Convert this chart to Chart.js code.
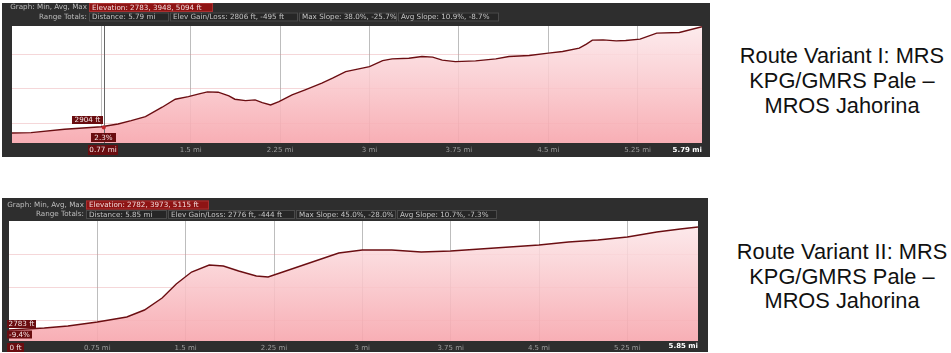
<!DOCTYPE html>
<html>
<head>
<meta charset="utf-8">
<script src="https://cdn.jsdelivr.net/npm/chart.js@4.4.1/dist/chart.umd.min.js"></script>
<style>
  body { margin: 0; background: #fff; width: 951px; height: 353px; overflow: hidden; position: relative; }
  canvas { position: absolute; }
  #c1 { left: 2px; top: 3px; }
  #c2 { left: 2px; top: 198px; }
  .cap { position: absolute; width: 240px; text-align: center; font-family: "Liberation Sans", Arial, sans-serif;
         font-size: 21.8px; color: #111; }
</style>
</head>
<body>
<canvas id="c1" width="708" height="154"></canvas>
<canvas id="c2" width="706" height="154"></canvas>
<div class="cap" style="left:722px; top:43px; line-height:25px;">Route Variant I: MRS<br>KPG/GMRS Pale –<br>MROS Jahorina</div>
<div class="cap" style="left:722px; top:240px; line-height:24.5px;">Route Variant II: MRS<br>KPG/GMRS Pale –<br>MROS Jahorina</div>
<script>
// route variant I: distance (mi) and elevation (ft)
const dist1 = [0, 0.16, 0.44, 0.75, 0.89, 1.0, 1.12, 1.26, 1.37, 1.48, 1.57, 1.64, 1.73, 1.82, 1.87, 1.96, 2.04, 2.10, 2.17, 2.24,
  2.35, 2.46, 2.60, 2.69, 2.80, 2.90, 3.0, 3.11, 3.19, 3.33, 3.44, 3.53, 3.61, 3.72, 3.89, 4.06, 4.17, 4.34, 4.50, 4.62,
  4.76, 4.82, 4.87, 4.96, 5.07, 5.15, 5.27, 5.41, 5.60, 5.79];
const elev1 = [2783, 2790, 2863, 2920, 2979, 3051, 3138, 3343, 3517, 3574, 3633, 3676, 3670, 3589, 3517, 3487, 3502, 3443, 3393, 3465,
  3611, 3720, 3866, 3975, 4119, 4171, 4227, 4358, 4395, 4410, 4445, 4432, 4367, 4336, 4351, 4395, 4445, 4467, 4519, 4554,
  4628, 4715, 4802, 4809, 4787, 4794, 4824, 4955, 4969, 5094];

// route variant II
const dist2 = [0, 0.3, 0.5, 0.75, 1.0, 1.15, 1.3, 1.42, 1.55, 1.7, 1.82, 1.95, 2.1, 2.2, 2.35, 2.55, 2.8, 3.0, 3.25, 3.5,
  3.75, 4.0, 4.25, 4.5, 4.75, 5.0, 5.25, 5.5, 5.7, 5.85];
const elev2 = [2782, 2827, 2873, 2963, 3077, 3235, 3507, 3824, 4096, 4254, 4232, 4118, 4005, 3983, 4118, 4300, 4526, 4594, 4594, 4549,
  4571, 4617, 4662, 4707, 4775, 4820, 4888, 5002, 5070, 5115];

const ticks1 = [0.75, 1.5, 2.25, 3, 3.75, 4.5, 5.25];
const ticks2 = [0.75, 1.5, 2.25, 3, 3.75, 4.5, 5.25];
const gridFt = [3000, 3750, 4500];

const head1 = ['Elevation: 2783, 3948, 5094 ft', 'Distance: 5.79 mi', 'Elev Gain/Loss: 2806 ft, -495 ft', 'Max Slope: 38.0%, -25.7%', 'Avg Slope: 10.9%, -8.7%'];
const head2 = ['Elevation: 2782, 3973, 5115 ft', 'Distance: 5.85 mi', 'Elev Gain/Loss: 2776 ft, -444 ft', 'Max Slope: 45.0%, -28.0%', 'Avg Slope: 10.7%, -7.3%'];

const SMALL = '7.2px "DejaVu Sans", sans-serif';

function box(ctx, x, y, w, h, bg, border, text, color, align) {
  ctx.fillStyle = bg;
  ctx.fillRect(x, y, w, h);
  if (border) { ctx.strokeStyle = border; ctx.lineWidth = 1; ctx.strokeRect(x + 0.5, y + 0.5, w - 1, h - 1); }
  ctx.fillStyle = color;
  ctx.textBaseline = 'middle';
  ctx.textAlign = align || 'left';
  ctx.fillText(text, align === 'center' ? x + w / 2 : x + 3, y + h / 2 + 0.5);
}

function panelPlugin(cfg) {
  return {
    id: 'panel',
    beforeDraw(chart) {
      const { ctx, chartArea: a } = chart;
      ctx.save();
      ctx.fillStyle = '#2e2e2e';
      ctx.fillRect(0, 0, chart.width, chart.height);
      ctx.fillStyle = '#ffffff';
      ctx.fillRect(a.left, a.top, a.right - a.left, a.bottom - a.top);
      ctx.restore();
    },
    afterDraw(chart) {
      const { ctx, chartArea: a, scales } = chart;
      ctx.save();
      ctx.font = SMALL;
      const r1 = cfg.rowTop, r2 = cfg.rowTop + 9.5;
      ctx.fillStyle = '#bdbdbd';
      ctx.textAlign = 'right'; ctx.textBaseline = 'middle';
      ctx.fillText('Graph: Min, Avg, Max', cfg.bx[0] - 2, r1 + 4.5);
      ctx.fillText('Range Totals:', cfg.bx[0] - 2, r2 + 4.5);
      box(ctx, cfg.bx[0], r1, cfg.redW, 9, '#8e1414', '#a83030', cfg.head[0], '#f0dada');
      for (let i = 1; i < 5; i++) {
        box(ctx, cfg.bx[i - 1], r2, cfg.bx[i] - cfg.bx[i - 1] - 1, 9, '#262626', '#4a4a4a', cfg.head[i], '#c4c4c4');
      }
      // end distance label
      ctx.font = 'bold 7px "DejaVu Sans", sans-serif';
      ctx.fillStyle = '#ffffff';
      ctx.textAlign = 'right'; ctx.textBaseline = 'middle';
      ctx.fillText(cfg.endLabel, a.right, cfg.labelY);
      ctx.font = SMALL;
      // cursor
      const c = cfg.cursor;
      if (c.line) {
        const px = scales.x.getPixelForValue(c.x);
        ctx.strokeStyle = '#666';
        ctx.lineWidth = 1;
        ctx.beginPath(); ctx.moveTo(Math.round(px) + 0.5, a.top); ctx.lineTo(Math.round(px) + 0.5, a.bottom); ctx.stroke();
        const py = scales.y.getPixelForValue(c.ft);
        ctx.fillStyle = '#c0262c';
        ctx.beginPath(); ctx.arc(px, py, 2, 0, Math.PI * 2); ctx.fill();
      }
      c.boxes.forEach(b => box(ctx, b[0], b[1], b[2], b[3], '#6a0d10', null, b[4], '#f4e4e4', 'center'));
      ctx.restore();
    }
  };
}

function makeChart(id, dist, elev, ticks, yMin, yMax, pad, axisH, cfg) {
  const el = document.getElementById(id);
  return new Chart(el.getContext('2d'), {
    type: 'line',
    data: {
      datasets: [{
        data: dist.map((d, i) => ({ x: d, y: elev[i] })),
        borderColor: '#6b0e12',
        borderWidth: 1.4,
        pointRadius: 0,
        tension: 0,
        fill: 'start',
        backgroundColor: (ctx) => {
          const a = ctx.chart.chartArea;
          if (!a) return 'rgba(248,180,185,0.8)';
          const g = ctx.chart.ctx.createLinearGradient(0, a.top, 0, a.bottom);
          g.addColorStop(0, 'rgba(252,232,234,0.85)');
          g.addColorStop(1, 'rgba(247,166,173,0.9)');
          return g;
        }
      }]
    },
    options: {
      responsive: false,
      animation: false,
      layout: { padding: pad },
      plugins: { legend: { display: false }, tooltip: { enabled: false } },
      scales: {
        x: {
          type: 'linear', min: 0, max: dist[dist.length - 1],
          afterBuildTicks: s => { s.ticks = ticks.map(v => ({ value: v })); },
          afterFit: s => { s.height = axisH; },
          grid: { color: '#bdbdbd', lineWidth: 1, drawTicks: false },
          border: { display: false },
          ticks: { color: '#9c9c9c', font: { size: 7, family: 'DejaVu Sans' }, padding: 3, maxRotation: 0,
            autoSkip: false, callback: v => v + ' mi' }
        },
        y: {
          min: yMin, max: yMax,
          afterBuildTicks: s => { s.ticks = gridFt.map(v => ({ value: v })); },
          afterFit: s => { s.width = 0; },
          grid: { color: 'rgba(226,140,146,0.35)', lineWidth: 1, drawTicks: false },
          border: { display: false },
          ticks: { display: false }
        }
      }
    },
    plugins: [panelPlugin(cfg)]
  });
}

makeChart('c1', dist1, elev1, ticks1, 2565, 5110, { left: 10, right: 8, top: 23, bottom: 0 }, 14, {
  rowTop: 0, bx: [87, 168, 297, 396, 498], redW: 124, head: head1, endLabel: '5.79 mi', labelY: 147,
  cursor: { line: true, x: 0.77, ft: 2904, boxes: [[70, 113, 31, 8, '2904 ft'], [89, 130, 25, 9, '2.3%'], [86, 142, 30, 10, '0.77 mi']] }
});
makeChart('c2', dist2, elev2, ticks2, 2533, 5251, { left: 7, right: 10, top: 23, bottom: 0 }, 11, {
  rowTop: 2.5, bx: [84, 166, 294, 395, 496], redW: 123, head: head2, endLabel: '5.85 mi', labelY: 148.5,
  cursor: { line: false, x: 0, ft: 2783, boxes: [[5, 122, 29, 8, '2783 ft'], [5, 132.5, 25, 8, '-9.4%'], [5, 145, 17, 9, '0 ft']] }
});
</script>
</body>
</html>
